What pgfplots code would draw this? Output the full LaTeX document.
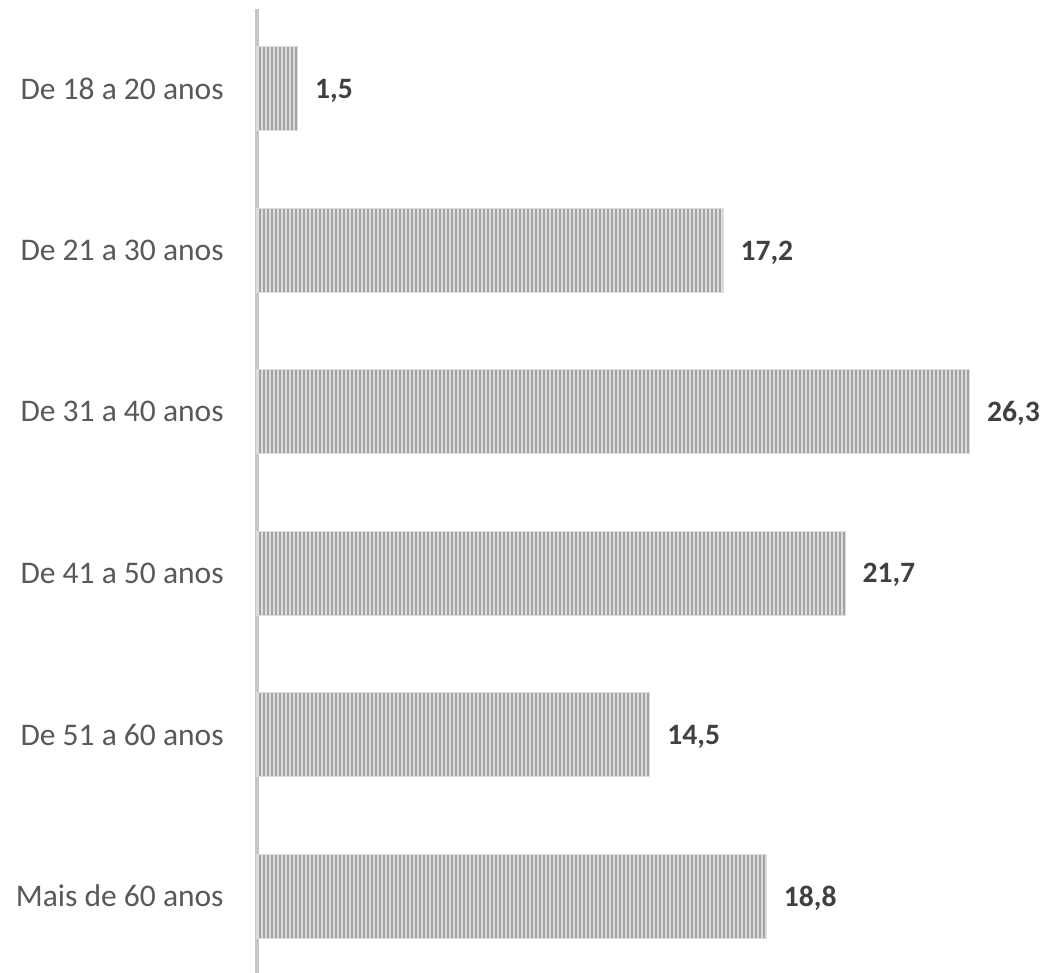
\documentclass[border=0pt]{standalone}
\usepackage{pgfplots}
\pgfplotsset{compat=1.18}
\usepackage{fontspec}
\setmainfont{Carlito}
\usetikzlibrary{patterns}
\definecolor{axisgray}{HTML}{C6C6C6}
\definecolor{lblgray}{HTML}{595959}
\definecolor{valgray}{HTML}{404040}
\definecolor{stripelight}{HTML}{DCDCDC}
\definecolor{stripedark}{HTML}{A3A3A3}
\pgfdeclarepatternformonly{vstripes}{\pgfpoint{-1pt}{-1pt}}{\pgfpoint{1pt}{1pt}}{\pgfpoint{2pt}{2pt}}{%
  \pgfsetlinewidth{0.9pt}%
  \pgfpathmoveto{\pgfpoint{0pt}{-1.1pt}}%
  \pgfpathlineto{\pgfpoint{0pt}{1.1pt}}%
  \pgfusepath{stroke}}
\begin{document}
\begin{tikzpicture}
\begin{axis}[
  at={(0,0)}, anchor=south west,
  scale only axis,
  width=395.5pt, height=482pt,
  xbar, bar width=42pt,
  xmin=0, xmax=29.19,
  ymin=-0.495, ymax=5.477,
  y dir=reverse,
  ytick={0,1,2,3,4,5},
  yticklabels={De 18 a 20 anos, De 21 a 30 anos, De 31 a 40 anos, De 41 a 50 anos, De 51 a 60 anos, Mais de 60 anos},
  yticklabel style={font=\fontsize{15.75}{18}\selectfont, text=lblgray, anchor=east, inner sep=0pt, xshift=-16.5pt},
  major tick length=0pt,
  axis x line=none,
  axis y line*=left,
  y axis line style={draw=axisgray, line width=1.6pt, -},
  nodes near coords,
  nodes near coords style={font=\fontsize{14.8}{17}\selectfont\bfseries, text=valgray, anchor=west, inner sep=0pt, xshift=8.5pt, yshift=-1pt},
  point meta=explicit symbolic,
  clip=false,
]
\addplot[fill=stripelight, draw=stripelight, line width=0.5pt, postaction={pattern=vstripes, pattern color=stripedark}]
  coordinates {(1.5,0) [1,5] (17.2,1) [17,2] (26.3,2) [26,3] (21.7,3) [21,7] (14.5,4) [14,5] (18.8,5) [18,8]};
\end{axis}
\pgfresetboundingbox
\useasboundingbox (-128.5pt,0) rectangle (395.5pt,486.5pt);
\end{tikzpicture}
\end{document}
